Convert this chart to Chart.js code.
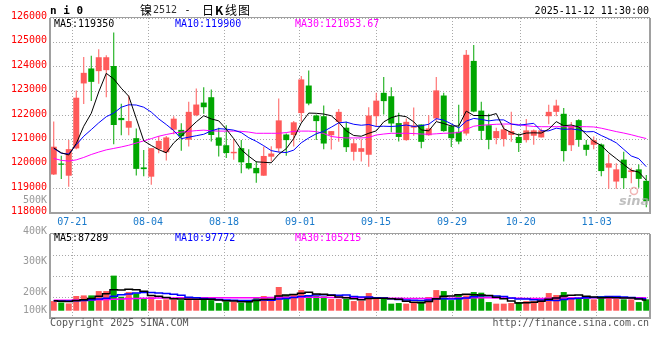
<!DOCTYPE html>
<html><head><meta charset="utf-8">
<script src="https://cdn.jsdelivr.net/npm/chart.js@4.4.1/dist/chart.umd.min.js"></script>
<style>
html,body{margin:0;padding:0;background:#fff;}
#wrap{position:relative;width:660px;height:360px;overflow:hidden;background:#fff;}
#pc{position:absolute;left:0;top:0;}
#vc{position:absolute;left:0;top:180px;}
</style></head><body>
<div id="wrap">
<canvas id="pc" width="660" height="230"></canvas>
<canvas id="vc" width="660" height="180"></canvas>
</div>
<script>
// ---------- data ----------
const dateTicks  = ['07-21','08-04','08-18','09-01','09-15','09-29','10-20','11-03'];
// where each date tick sits on the candle-index axis
const dateTickAt = [2.47, 12.57, 22.71, 32.83, 42.97, 53.11, 62.26, 72.39];

const open = [119580,120030,119530,120650,123315,123930,123820,123860,124030,121900,
121500,121070,119870,119490,120620,120490,121420,121410,121010,122010,
122530,122750,121100,120780,120450,120660,120050,119850,119530,120310,
120650,121220,121200,122100,123230,122000,121970,121190,121740,121500,
120510,120510,120390,121970,122930,122790,121690,120990,121500,121630,
121190,121880,122820,121560,121330,121260,124240,122200,121600,121070,
121030,121200,121120,120990,121170,121100,121970,122150,122070,120780,
121810,120800,120800,120810,119860,119290,120190,119680,119790,119320];
const high = [121750,120350,120990,123030,124400,124450,124720,124470,125410,122480,
122820,121470,120580,120660,121160,121160,121970,121680,122560,123110,
123160,123070,121500,121600,121030,120990,120620,120120,120730,120740,
122700,121260,121770,123620,123850,122040,122410,121360,122270,121740,
121030,121030,122340,122930,123580,123160,122110,121880,122330,121630,
122010,123580,122930,121630,122440,124690,124890,122560,122070,121500,
121600,122150,121260,121860,121430,121470,122440,122650,122310,121730,
121850,120990,121140,120850,120410,120040,120510,119860,119990,119560];
const low = [119560,119390,119080,120620,122470,122600,123300,122750,120820,121190,
121190,119540,119510,119160,120450,120150,121230,120550,120730,121970,
122070,120930,120320,120260,120180,119630,119780,119240,119530,120110,
120490,120350,120730,121740,122420,121000,120620,120610,120920,120500,
120150,120110,119900,121530,122040,121310,120930,120960,121170,120660,
121170,121770,121330,120710,120820,121180,122130,121000,120620,120820,
120730,120920,120500,120890,120800,121100,121640,121970,120110,120540,
120720,120350,120620,119510,119000,119000,119000,119220,119040,118240];
const close = [120720,119980,120620,122730,123750,123380,124390,124390,121610,121810,
121770,119810,119800,120660,120960,121100,121870,121150,122150,122450,
122340,121200,120760,120460,120510,120080,119830,119630,120340,120440,
121800,120990,121720,123480,122490,121770,120850,121360,122150,120700,
120860,120660,122000,122610,122590,121670,121120,121740,121590,120920,
121470,123030,121360,121070,120930,124490,122160,121370,121000,121360,
121430,121360,120870,121390,121390,121390,122150,122410,120540,121570,
121000,120590,120990,119720,120040,119790,119430,119750,119400,118490];

const ma5 = [120670,120470,120380,120850,121560,122090,122970,123730,123500,123120,
122790,121880,120960,120770,120600,120470,120880,121150,121450,121740,
121990,121860,121780,121440,121050,120600,120330,120100,120080,120060,
120410,120640,121060,121690,122100,122090,122060,121990,121720,121370,
121180,121150,121270,121370,121740,121910,122000,121950,121740,121410,
121370,121750,121670,121570,121570,122180,122000,122000,121990,122080,
121460,121300,121200,121280,121290,121280,121440,121750,121580,121610,
121530,121220,120940,120770,120470,120230,119990,119750,119680,119350];
const ma10 = [120650,120450,120420,120800,121150,121420,121700,121950,122100,122340,
122440,122430,122340,122140,121860,121630,121380,121050,121110,121170,
121230,121370,121460,121440,121400,121300,121090,120940,120760,120560,
120500,120480,120580,120880,121080,121250,121350,121520,121700,121730,
121640,121600,121630,121550,121560,121550,121570,121610,121550,121580,
121640,121870,121810,121660,121490,121770,121880,121840,121780,121820,
121820,121650,121600,121640,121680,121370,121370,121480,121430,121450,
121410,121330,121340,121180,121040,120880,120610,120340,120230,119900];
const ma30 = [120240,120160,120130,120180,120280,120400,120500,120590,120650,120710,
120780,120870,120960,121050,121150,121220,121280,121320,121350,121380,
121400,121370,121360,121360,121360,121350,121320,121270,121270,121270,
121270,121300,121350,121360,121360,121340,121260,121140,121100,121080,
121080,121080,121100,121200,121240,121270,121270,121270,121260,121240,
121230,121250,121270,121280,121300,121430,121560,121600,121620,121640,
121650,121650,121630,121580,121550,121540,121540,121540,121540,121540,
121540,121540,121530,121480,121410,121340,121280,121210,121130,121054];

const volume = [78000,67000,59000,119000,124000,124000,159000,159000,284000,113000,
151000,140000,100000,113000,86000,92000,92000,86000,108000,86000,
95000,86000,62000,76000,73000,65000,86000,111000,119000,84000,
192000,127000,135000,167000,127000,119000,116000,95000,95000,97000,
78000,81000,143000,103000,100000,57000,62000,57000,70000,76000,
111000,167000,159000,86000,127000,124000,151000,146000,70000,57000,
57000,62000,70000,78000,78000,92000,143000,127000,151000,111000,
100000,100000,92000,119000,119000,97000,92000,92000,70000,92000];
const vma5 = [80000,76000,74000,82000,89400,98600,117000,137000,170000,167800,
173200,169400,157600,123400,118000,106200,96600,93800,92800,92800,
93400,92200,87400,81000,78400,72400,72400,82200,90800,93000,
118400,126600,131400,141000,149600,135000,132800,124800,110400,104400,
96200,89200,98800,100400,101000,96800,93000,75800,69200,64400,
75200,96200,116600,119800,130000,132600,129400,126800,123600,109600,
96200,78400,63200,64800,69000,76000,92200,103600,118200,124800,
126400,117800,110800,104400,106000,105400,103800,103800,94000,87289];
const vma10 = [80000,79000,78000,80000,83000,88000,94000,100000,118000,128600,
135900,143200,147300,146700,142900,139700,133000,125700,108100,105400,
99800,94400,90600,86900,85600,82900,82300,84800,85900,85700,
95400,99500,106800,115900,121300,126700,129700,128100,125700,127000,
115600,111000,111800,105400,102700,96500,91100,87300,84800,82700,
86000,94600,96200,94500,97200,103900,112800,121700,121700,119800,
114400,103900,95000,94200,89300,86100,85300,83400,91500,96900,
101200,105000,107200,111300,115400,115900,110800,107300,99200,97772];
const vma30 = [85000,85000,85000,86000,86000,87000,88000,90000,93000,95000,
96000,98000,100000,101000,102000,103000,103000,104000,104000,104000,
104000,104000,104000,104000,104000,104000,104000,105000,105000,106000,
107000,108000,108000,109000,109000,108000,108000,107000,106000,106000,
105000,104000,104000,103000,102000,101000,100000,99000,99000,98000,
99000,100000,101000,101000,102000,103000,104000,105000,104000,103000,
102000,101000,100000,99000,99000,99000,100000,101000,102000,102000,
103000,103000,104000,104000,104000,104000,105000,105000,105000,105215];

const volTickLabels = ['500K','400K','300K','200K','100K'];
const volTickValues = [500000,400000,300000,200000,100000];
const priceLegend = ['MA5:119350','MA10:119900','MA30:121053.67'];
const volLegend   = ['MA5:87289','MA10:97772','MA30:105215'];

// ---------- drawing ----------
const MONO = "'DejaVu Sans Mono', monospace";
Chart.defaults.font.family = MONO;
Chart.defaults.font.size = 10;

const UP = '#ff5a5a', DOWN = '#00a600';
const LEG_COLORS = ['#000000', '#0000ff', '#ff00ff'];
const idx = close.map((_, i) => i);
const candleColor = idx.map(i => close[i] >= open[i] ? UP : DOWN);
const pts = arr => idx.map(i => ({x: i, y: arr[i]}));
const setDateTicks = s => { s.ticks = dateTickAt.map(v => ({value: v})); };
const gridStyle = {color: '#a8a8a8', lineWidth: 1, drawTicks: false, offset: false};
const dotted = {display: false, dash: [1, 2]};

function frame(c, a) {
  c.strokeStyle = '#a0a0a0';
  c.lineWidth = 2;
  c.beginPath();
  c.moveTo(a.left, a.top); c.lineTo(a.left, a.bottom);
  c.lineTo(a.right, a.bottom); c.lineTo(a.right, a.top);
  c.stroke();
  c.lineWidth = 1;
  c.beginPath();
  c.moveTo(a.left, a.top - 0.5); c.lineTo(a.right, a.top - 0.5);
  c.stroke();
}
function legend(c, a, texts, y) {
  const xs = [a.left + 4, a.left + 125, a.left + 245];
  c.font = '10px ' + MONO; c.textAlign = 'left'; c.textBaseline = 'middle';
  texts.forEach((t, k) => { c.fillStyle = LEG_COLORS[k]; c.fillText(t, xs[k], y); });
}

const priceDecor = {
  id: 'priceDecor',
  afterDraw(chart) {
    const c = chart.ctx, a = chart.chartArea;
    c.save();
    frame(c, a);
    legend(c, a, priceLegend, a.top + 6);
    c.textBaseline = 'middle'; c.textAlign = 'left';
    c.fillStyle = '#000';
    c.font = 'bold 11px ' + MONO;
    c.fillText('n i 0', 50, 11);
    const cjk = "12px 'Noto Sans CJK SC', sans-serif";
    c.font = cjk; c.fillText('镍', 140, 10);
    c.font = '10px ' + MONO; c.fillStyle = '#333'; c.fillText('2512', 153, 10.5);
    c.fillStyle = '#000'; c.fillText('-', 184.5, 10.5);
    c.font = cjk; c.fillText('日', 202, 10);
    c.font = "bold 12px 'Noto Sans CJK SC', sans-serif"; c.fillText('K', 215, 10);
    c.font = cjk; c.fillText('线', 225, 10); c.fillText('图', 238, 10);
    c.font = '10px ' + MONO; c.textAlign = 'right';
    c.fillText('2025-11-12 11:30:00', 649, 11.5);
    // watermark
    c.strokeStyle = 'rgba(230,120,120,0.55)'; c.lineWidth = 1.5;
    c.beginPath(); c.arc(634, 191, 3.5, 0, Math.PI * 2); c.stroke();
    c.fillStyle = 'rgba(170,170,170,0.75)';
    c.font = "italic bold 13px 'DejaVu Sans', sans-serif"; c.textAlign = 'left'; c.textBaseline = 'alphabetic';
    c.fillText('sina', 619, 205);
    c.restore();
  }
};

new Chart(document.getElementById('pc'), {
  type: 'bar',
  data: {
    datasets: [
      {type: 'line', data: pts(ma5),  borderColor: '#000000', borderWidth: 1, pointRadius: 0, tension: 0, order: 0},
      {type: 'line', data: pts(ma10), borderColor: '#0000ff', borderWidth: 1, pointRadius: 0, tension: 0, order: 0},
      {type: 'line', data: pts(ma30), borderColor: '#ff00ff', borderWidth: 1, pointRadius: 0, tension: 0, order: 0},
      {type: 'bar', data: idx.map(i => ({x: i, y: [low[i], high[i]]})), backgroundColor: candleColor,
       barThickness: 1, grouped: false, borderWidth: 0, inflateAmount: 0, order: 2},
      {type: 'bar', data: idx.map(i => ({x: i, y: [open[i], close[i]]})), backgroundColor: candleColor,
       barThickness: 6, grouped: false, borderWidth: 0, inflateAmount: 0, order: 1}
    ]
  },
  options: {
    responsive: false, animation: false, devicePixelRatio: 1, events: [],
    layout: {padding: {top: 18, right: 10, bottom: 0, left: 0}},
    plugins: {legend: {display: false}, tooltip: {enabled: false}},
    scales: {
      x: {
        type: 'linear', min: -0.5, max: 79.5, offset: false,
        afterBuildTicks: setDateTicks,
        afterFit: s => { s.height = 17; },
        ticks: {callback: (v, i) => dateTicks[i], color: '#1a7acb', padding: 3,
                autoSkip: false, maxRotation: 0, minRotation: 0, font: {size: 10, family: MONO}},
        grid: gridStyle, border: dotted
      },
      y: {
        min: 118000, max: 126000,
        afterFit: s => { s.width = 50; },
        ticks: {stepSize: 1000, color: '#ff0000', padding: 3, labelOffset: -1.5,
                callback: v => String(v), font: {size: 10, family: MONO}},
        grid: gridStyle, border: dotted
      }
    }
  },
  plugins: [priceDecor]
});

const volDecor = {
  id: 'volDecor',
  afterDraw(chart) {
    const c = chart.ctx, a = chart.chartArea, yl = chart.scales.yl;
    c.save();
    frame(c, a);
    legend(c, a, volLegend, a.top + 4.5);
    c.font = '10px ' + MONO; c.fillStyle = '#999'; c.textAlign = 'right'; c.textBaseline = 'middle';
    volTickValues.forEach((v, k) => {
      const y = Math.min(yl.getPixelForValue(v), a.bottom - 8);
      if (isFinite(y)) c.fillText(volTickLabels[k], a.left - 3, y);
    });
    c.fillStyle = '#555';
    c.textAlign = 'left'; c.fillText('Copyright 2025 SINA.COM', 50, a.bottom + 5);
    c.textAlign = 'right'; c.fillText('http://finance.sina.com.cn', 649, a.bottom + 5.5);
    c.restore();
  }
};

new Chart(document.getElementById('vc'), {
  type: 'bar',
  data: {
    datasets: [
      {type: 'line', data: pts(vma5),  borderColor: '#000000', borderWidth: 1.5, pointRadius: 0, stepped: 'middle', order: 0},
      {type: 'line', data: pts(vma10), borderColor: '#0000ff', borderWidth: 1.5, pointRadius: 0, stepped: 'middle', order: 0},
      {type: 'line', data: pts(vma30), borderColor: '#ff00ff', borderWidth: 1.5, pointRadius: 0, stepped: 'middle', order: 0},
      {type: 'bar', data: pts(volume), backgroundColor: candleColor, barThickness: 6, grouped: false,
       borderWidth: 0, inflateAmount: 0, order: 1}
    ]
  },
  options: {
    responsive: false, animation: false, devicePixelRatio: 1, events: [],
    layout: {padding: {top: 54, right: 10, bottom: 42, left: 0}},
    plugins: {legend: {display: false}, tooltip: {enabled: false}},
    scales: {
      x: {
        type: 'linear', min: -0.5, max: 79.5, offset: false,
        afterBuildTicks: setDateTicks,
        afterFit: s => { s.height = 0; },
        ticks: {display: false, autoSkip: false},
        grid: gridStyle, border: dotted
      },
      y: {
        min: -59000, max: 621000,
        afterFit: s => { s.width = 50; },
        ticks: {count: 5, display: false},
        grid: gridStyle, border: dotted
      },
      yl: {display: false, position: 'left', min: 114800, max: 390200}
    }
  },
  plugins: [volDecor]
});
</script>
</body></html>
